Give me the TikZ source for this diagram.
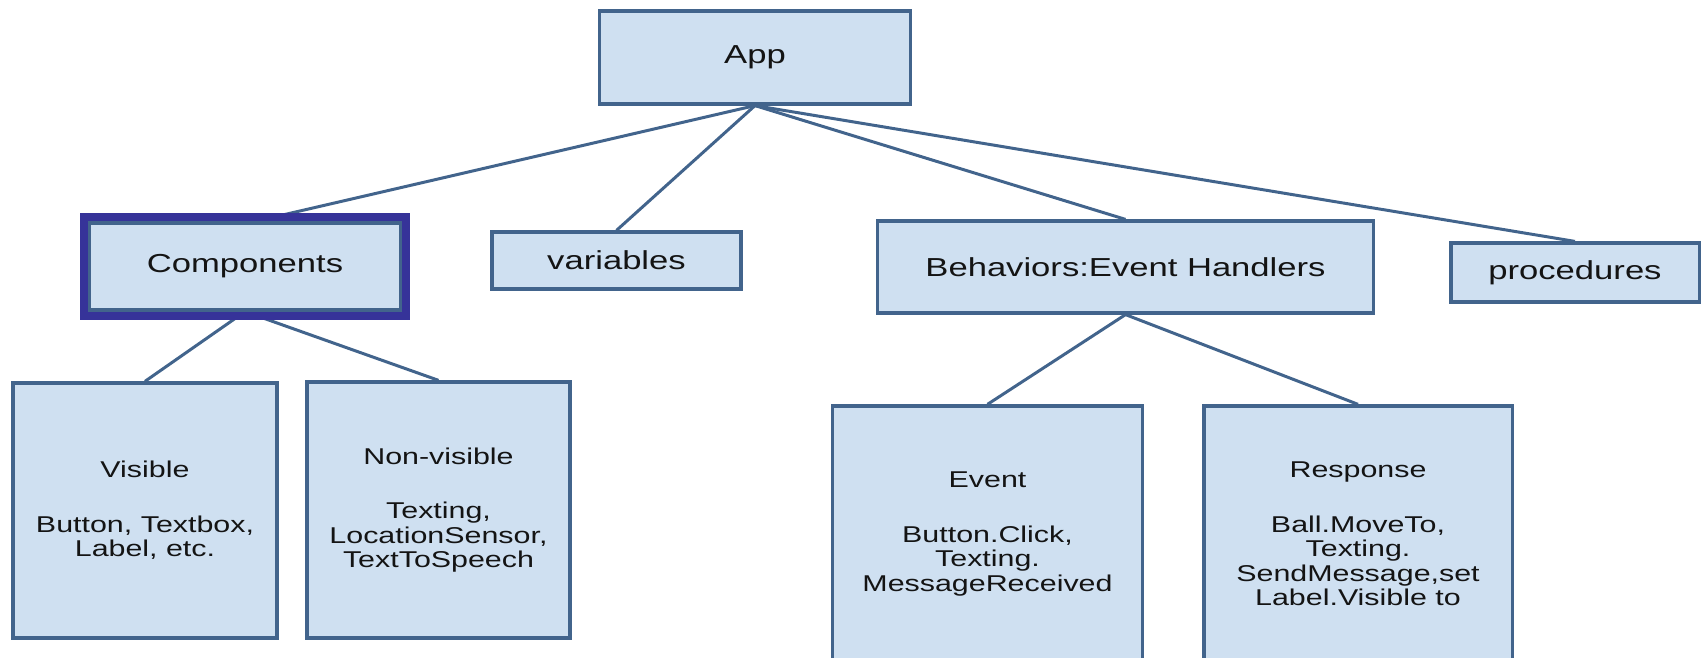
\documentclass[tikz,border=0pt]{standalone}
\usepackage{fontspec}
\setmainfont{Liberation Sans}[FakeStretch=1.33]

\definecolor{boxfill}{RGB}{207,224,241}
\definecolor{boxline}{RGB}{66,100,140}
\definecolor{frameblue}{RGB}{54,51,153}
\definecolor{txt}{RGB}{20,20,20}

\begin{document}
\begin{tikzpicture}[x=0.01cm,y=-0.01cm]

  \tikzstyle{box}=[draw=boxline,fill=boxfill,line width=0.9pt,inner sep=0pt,align=center,text=txt,font=\fontsize{7.4}{8}\selectfont]
  \tikzstyle{leaf}=[box,font=\fontsize{6.5}{7}\selectfont]
  \tikzstyle{link}=[draw=boxline,line width=0.85pt]

  \useasboundingbox (0,0) rectangle (1702,658);

  \node[box,minimum width=3.10cm,minimum height=0.93cm] (app) at (755,57.5) {App};

  \node[box,minimum width=3.10cm,minimum height=0.87cm] (comp) at (245,266.5) {Components};
  \node[box,minimum width=2.49cm,minimum height=0.57cm] (vars) at (616.5,260.5) {variables};
  \node[box,minimum width=4.95cm,minimum height=0.92cm] (beh) at (1125.5,267) {Behaviors:Event Handlers};
  \node[box,minimum width=2.48cm,minimum height=0.59cm] (proc) at (1575,272.5) {procedures};

  \node[leaf,minimum width=2.64cm,minimum height=2.55cm] (vis) at (145,510.5)
    {Visible\\[8.5pt]Button, Textbox,\\Label, etc.};
  \node[leaf,minimum width=2.63cm,minimum height=2.56cm] (nonvis) at (438.5,510)
    {Non-visible\\[8.5pt]Texting,\\LocationSensor,\\TextToSpeech};
  \node[leaf,minimum width=3.09cm,minimum height=2.56cm] (event) at (987.5,534)
    {Event\\[8.5pt]Button.Click,\\Texting.\\MessageReceived};
  \node[leaf,minimum width=3.08cm,minimum height=2.56cm] (resp) at (1358,534)
    {Response\\[8.5pt]Ball.MoveTo,\\Texting.\\SendMessage,set\\Label.Visible to};

  \draw[link] (app.south) -- ([xshift=0.1cm]comp.north);
  \draw[link] (app.south) -- (vars.north);
  \draw[link] (app.south) -- (beh.north);
  \draw[link] (app.south) -- (proc.north);

  \draw[link] (comp.south) -- (vis.north);
  \draw[link] (comp.south) -- (nonvis.north);
  \draw[link] (beh.south) -- (event.north);
  \draw[link] (beh.south) -- (resp.north);

  % selection frame
  \draw[frameblue,line width=0.08cm] ([shift={(-4,-4)}]comp.north west) rectangle ([shift={(4,4)}]comp.south east);

  %\draw[step=100,gray,very thin] (0,0) grid (1702,658);

\end{tikzpicture}
\end{document}
